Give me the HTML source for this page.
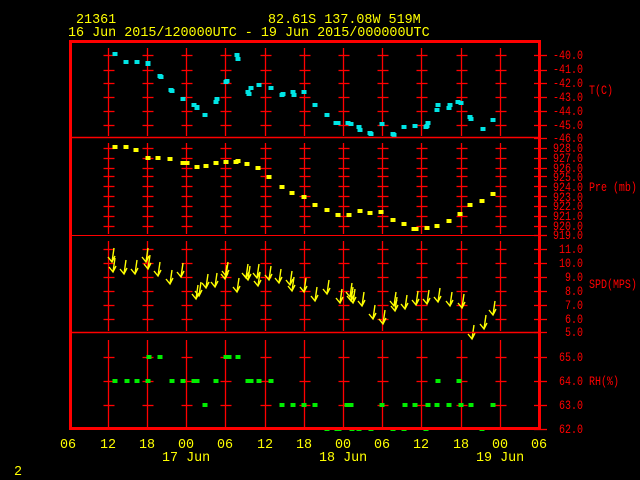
<!DOCTYPE html>
<html><head><meta charset="utf-8"><style>
html,body{margin:0;padding:0;background:#000;width:640px;height:480px;overflow:hidden}
svg{display:block}
text{font-family:"Liberation Mono",monospace;font-size:13.4px}
.y{fill:#ffff00}.r{fill:#ff0000}
g.r text{font-size:12.5px}
</style></head><body>
<svg id="s" width="640" height="480" xmlns="http://www.w3.org/2000/svg">
<rect width="640" height="480" fill="#000"/>
<g id="grid"></g>
<g id="data"></g>
<rect x="70.5" y="41.5" width="469" height="387" fill="none" stroke="#ff0000" stroke-width="3"/>
<line x1="70" y1="137.5" x2="540" y2="137.5" stroke="#ff0000" stroke-width="1.5"/>
<line x1="70" y1="235.5" x2="540" y2="235.5" stroke="#ff0000" stroke-width="1"/>
<line x1="70" y1="332.5" x2="540" y2="332.5" stroke="#ff0000" stroke-width="1.5"/>
<text class="y" x="76" y="23">21361</text>
<text class="y" x="268" y="23">82.61S  137.08W   519M</text>
<text class="y" x="68" y="36">16 Jun 2015/120000UTC - 19 Jun 2015/000000UTC</text>
<g class="r" transform="translate(553,0) scale(0.8,1) translate(-553,0)">
<text x="553" y="59">-40.0</text><text x="553" y="73">-41.0</text><text x="553" y="87">-42.0</text><text x="553" y="101">-43.0</text><text x="553" y="115">-44.0</text><text x="553" y="129">-45.0</text><text x="553" y="142">-46.0</text>
<text x="598" y="94">T(C)</text>
<text x="553" y="152">928.0</text><text x="553" y="162">927.0</text><text x="553" y="172">926.0</text><text x="553" y="181">925.0</text><text x="553" y="191">924.0</text><text x="553" y="201">923.0</text><text x="553" y="210">922.0</text><text x="553" y="220">921.0</text><text x="553" y="230">920.0</text><text x="553" y="239">919.0</text>
<text x="598" y="191">Pre (mb)</text>
<text x="560.5" y="253">11.0</text><text x="560.5" y="267">10.0</text><text x="568" y="281">9.0</text><text x="568" y="295">8.0</text><text x="568" y="309">7.0</text><text x="568" y="323">6.0</text><text x="568" y="336">5.0</text>
<text x="598" y="288">SPD(MPS)</text>
<text x="560.5" y="361">65.0</text><text x="560.5" y="385">64.0</text><text x="560.5" y="409">63.0</text><text x="560.5" y="433">62.0</text>
<text x="598" y="385">RH(%)</text>
</g>
<g class="y">
<text x="60" y="448">06</text><text x="100" y="448">12</text><text x="139" y="448">18</text><text x="178" y="448">00</text><text x="217" y="448">06</text><text x="257" y="448">12</text><text x="296" y="448">18</text><text x="335" y="448">00</text><text x="374" y="448">06</text><text x="413" y="448">12</text><text x="453" y="448">18</text><text x="492" y="448">00</text><text x="531" y="448">06</text>
<text x="162" y="461">17 Jun</text><text x="319" y="461">18 Jun</text><text x="476" y="461">19 Jun</text>
<text x="14" y="475">2</text>
</g>
</svg>
<script>
var NS="http://www.w3.org/2000/svg";
function el(p,t,a){var e=document.createElementNS(NS,t);for(var k in a)e.setAttribute(k,a[k]);p.appendChild(e);return e;}
var g=document.getElementById("grid"),d=document.getElementById("data");
var xs=[108.5,147.5,186.5,225.5,265.5,304.5,343.5,382.5,421.5,461.5,500.5];
var panels=[[48,136,[55,70,83,97,111,125]],[143,234,[148,158,168,176,186,196,206,216,226]],[241,331,[249,263,277,291,305,319]],[340,427,[357,381,405]]];
panels.forEach(function(p){
 xs.forEach(function(x){
  el(g,"line",{x1:x,y1:p[0],x2:x,y2:p[1],stroke:"#ff0000","stroke-width":1.3});
  p[2].forEach(function(y){el(g,"line",{x1:x-5,y1:y+.5,x2:x+6,y2:y+.5,stroke:"#ff0000","stroke-width":1.3});});
 });
 p[2].forEach(function(y){el(g,"line",{x1:534,y1:y+.5,x2:547,y2:y+.5,stroke:"#ff0000","stroke-width":1.3});});
});
[138,235,332,429].forEach(function(y){el(g,"line",{x1:534,y1:y+.5,x2:547,y2:y+.5,stroke:"#ff0000","stroke-width":1.3});});
function sq(pts,c){pts.forEach(function(p){el(d,"rect",{x:p[0]-2.5,y:p[1]-2,width:5,height:4,fill:c});});}
sq([[115,54],[126,62],[137,62],[148,64],[148,63],[160,76],[161,77],[171,90],[172,91],[183,99],[194,105],[197,107],[197,108],[205,115],[216,102],[217,99],[226,82],[227,81],[237,55],[238,59],[248,92],[249,94],[251,88],[259,85],[271,88],[282,95],[283,94],[293,92],[294,95],[304,92],[315,105],[327,115],[336,123],[338,123],[348,123],[351,124],[359,127],[360,130],[370,133],[371,134],[382,124],[393,134],[394,135],[404,127],[415,126],[426,127],[427,126],[428,123],[437,110],[438,105],[449,108],[450,105],[458,102],[461,103],[470,117],[471,119],[483,129],[493,120]],"#00e5e5");
sq([[115,147],[126,147],[136,150],[148,158],[158,158],[170,159],[183,163],[187,163],[197,167],[206,166],[216,163],[226,162],[236,162],[238,161],[247,164],[258,168],[269,177],[282,187],[292,193],[304,197],[315,205],[327,210],[338,215],[349,215],[360,211],[370,213],[381,212],[393,220],[404,224],[414,229],[416,229],[427,228],[437,226],[449,221],[460,214],[470,205],[482,201],[493,194]],"#ffff00");
sq([[149,357],[160,357],[226,357],[229,357],[238,357],[115,381],[127,381],[137,381],[148,381],[172,381],[183,381],[194,381],[197,381],[216,381],[248,381],[251,381],[259,381],[271,381],[438,381],[459,381],[205,405],[282,405],[293,405],[304,405],[315,405],[347,405],[351,405],[382,405],[405,405],[415,405],[428,405],[437,405],[449,405],[461,405],[471,405],[493,405],[327,429],[337,429],[339,429],[352,429],[359,429],[371,429],[393,429],[404,429],[426,429],[482,429]],"#00ee00");
[[112,258],[113,268],[124,270],[135,270],[146,258],[148,265],[158,272],[170,280],[181,273],[196,295],[199,292],[206,284],[215,283],[225,275],[226,272],[237,288],[246,274],[248,276],[257,274],[258,282],[269,276],[279,279],[290,281],[292,287],[304,288],[315,297],[327,290],[340,299],[350,293],[351,297],[353,299],[362,302],[373,315],[383,320],[394,302],[395,307],[405,305],[416,301],[427,300],[438,298],[450,302],[462,304],[472,335],[484,325],[493,311]].forEach(function(p){
 var x=p[0],y=p[1];
 el(d,"path",{d:"M"+(x+2)+" "+(y-10)+"L"+x+" "+(y+4)+"M"+(x-4)+" "+(y-1)+"L"+x+" "+(y+4)+"L"+(x+3)+" "+(y-2),stroke:"#ffff00","stroke-width":1.4,fill:"none"});
});
</script>
</body></html>
